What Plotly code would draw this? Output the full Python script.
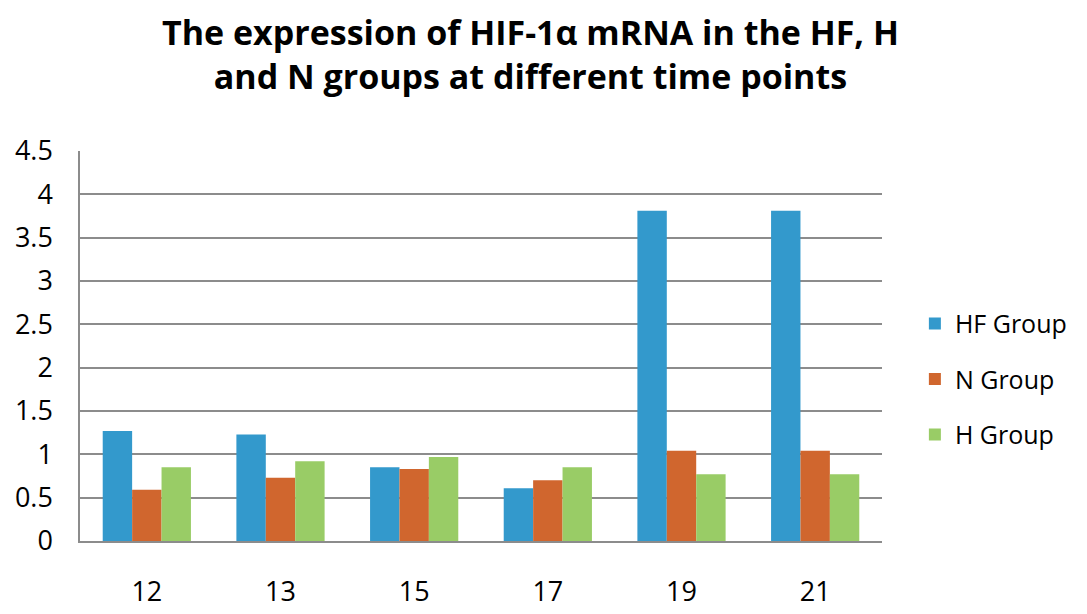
import plotly.graph_objects as go

categories = ["12", "13", "15", "17", "19", "21"]
hf_group = [1.27, 1.23, 0.85, 0.61, 3.81, 3.81]
n_group = [0.59, 0.73, 0.83, 0.70, 1.04, 1.04]
h_group = [0.85, 0.92, 0.97, 0.85, 0.77, 0.77]
title_lines = ["The expression of HIF-1α mRNA in the HF, H",
               "and N groups at different time points"]

series = [
    ("HF Group", hf_group, "#3399CC"),
    ("N Group", n_group, "#D0662E"),
    ("H Group", h_group, "#99CC66"),
]

fig = go.Figure()
for name, vals, col in series:
    fig.add_trace(go.Bar(x=categories, y=vals, name=name, marker_color=col,
                         marker_line_width=0, legendgroup=name))

font_family = "Open Sans, Noto Sans, sans-serif"
fig.update_layout(
    width=1087, height=614,
    paper_bgcolor="white", plot_bgcolor="white",
    margin=dict(l=72, r=213, t=143, b=81, autoexpand=False),
    barmode="group", bargap=0.34, bargroupgap=0,
    legend=dict(x=1.041, xanchor="left", y=0.415, yanchor="middle",
                font=dict(family=font_family, size=25, color="black"),
                tracegroupgap=20, bgcolor="rgba(0,0,0,0)"),
    font=dict(family=font_family, size=25, color="black"),
    annotations=[
        dict(text="<b>" + "<br>".join(title_lines) + "</b>",
             xref="paper", yref="paper",
             x=(530 - 80) / 802, y=1.25, xanchor="center", yanchor="middle",
             align="center", showarrow=False,
             font=dict(family=font_family, size=34, color="black")),
    ],
)
fig.update_yaxes(range=[0, 4.5], dtick=0.5, showgrid=True, gridcolor="#8C8C8C",
                 gridwidth=1.5, showline=True, linecolor="#8C8C8C", linewidth=1.5,
                 ticks="", ticklabelstandoff=20, zeroline=False, automargin=False,
                 tickfont=dict(family=font_family, size=27, color="black"))
fig.update_xaxes(showline=True, linecolor="#8C8C8C", linewidth=1.5, ticks="",
                 ticklabelstandoff=26, automargin=False,
                 tickfont=dict(family=font_family, size=27, color="black"))

fig.write_html("out.html")
